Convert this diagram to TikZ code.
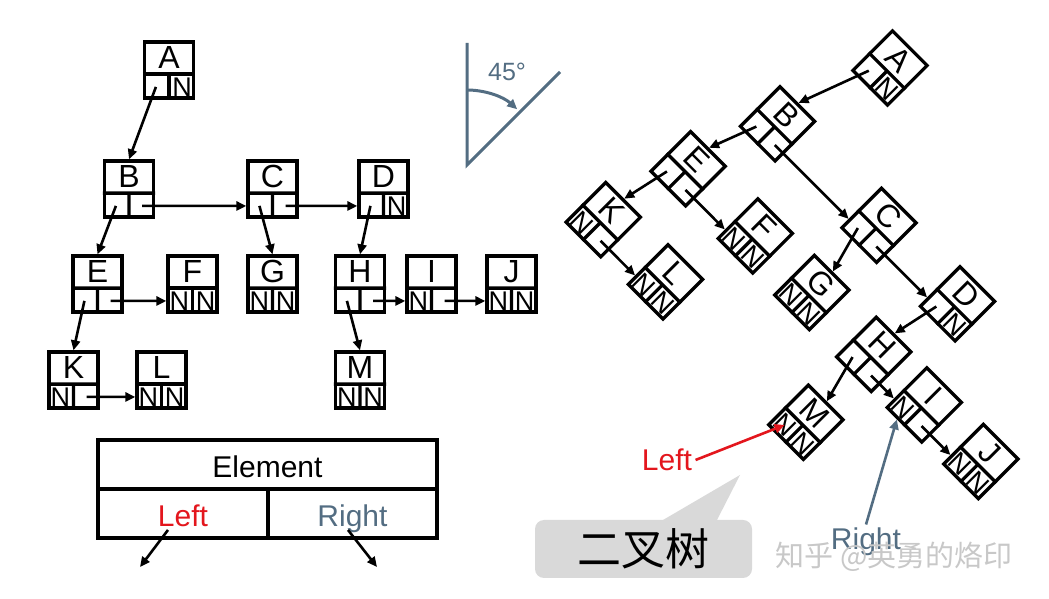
\documentclass[tikz,border=0pt]{standalone}
\usepackage{fontspec}
\setmainfont{Liberation Sans}
\newfontfamily\cjkfont{Noto Sans CJK SC}
\usepackage{tikz}
\usetikzlibrary{
  arrows.meta,
  calc
}
\definecolor{LinkRed}{HTML}{E3161D}
\definecolor{RightSlate}{HTML}{536D82}
\definecolor{BubbleGray}{HTML}{D9D9D9}
\definecolor{MarkGray}{HTML}{C8C8C8}

\tikzset{
  elembox/.style={draw,line width=3.3pt,minimum width=49pt,minimum height=56pt,inner sep=0pt},
  boxline/.style={line width=3.3pt},
  boxlabel/.style={inner sep=0pt,font=\fontsize{32}{32}\selectfont},
  nullcell/.style={inner sep=0pt,font=\fontsize{27}{27}\selectfont},
  link/.style={line width=2.6pt,-{Triangle[length=10pt,width=9pt]}},
  legendpart/.style={draw,line width=3.3pt,outer sep=0pt,minimum height=49pt,
                     text height=27pt,text depth=0pt,font=\fontsize{30}{30}\selectfont},
  anglemark/.style={RightSlate,line width=3pt}
}

% one list node: name, position, letter, left cell, right cell
\newcommand\listnode[5]{%
  \node[elembox] (#1) at (#2) {};
  \coordinate (#1-l) at ($(#1.north west)!0.57!(#1.south west)$);
  \coordinate (#1-r) at ($(#1.north east)!0.57!(#1.south east)$);
  \coordinate (#1-m) at ($(#1-l)!0.5!(#1-r)$);
  \draw[boxline] (#1-l) -- (#1-r) (#1-m) -- (#1.south);
  \node[boxlabel] at ($(#1.north)!0.5!(#1-m)$) {#3};
  \node[nullcell] (#1-lc) at ($(#1-l)!0.5!(#1.south)$) {#4};
  \node[nullcell] (#1-rc) at ($(#1-r)!0.5!(#1.south)$) {#5};
  \coordinate (#1-in) at ($(#1.north west)!0.786!(#1.south west)$);
}

% the whole tree, node names start with #1
\newcommand\listtree[1]{%
  \listnode{#1A}{0,0}{A}{}{N}
  \listnode{#1B}{-40,-119}{B}{}{}
  \listnode{#1C}{103.5,-119}{C}{}{}
  \listnode{#1D}{214.5,-119}{D}{}{N}
  \listnode{#1E}{-71.5,-214}{E}{}{}
  \listnode{#1F}{23.5,-214}{F}{N}{N}
  \listnode{#1G}{103.5,-214}{G}{N}{N}
  \listnode{#1H}{191,-214}{H}{}{}
  \listnode{#1I}{262.5,-214}{I}{N}{}
  \listnode{#1J}{342.5,-214}{J}{N}{N}
  \listnode{#1K}{-95.5,-310}{K}{N}{}
  \listnode{#1L}{-7.5,-310}{L}{N}{N}
  \listnode{#1M}{191,-310}{M}{N}{N}
  % left children
  \draw[link] (#1A-lc.center) -- (#1B.north);
  \draw[link] (#1B-lc.center) -- (#1E.north);
  \draw[link] (#1C-lc.center) -- (#1G.north);
  \draw[link] (#1D-lc.center) -- (#1H.north);
  \draw[link] (#1E-lc.center) -- (#1K.north);
  \draw[link] (#1H-lc.center) -- (#1M.north);
  % right siblings
  \draw[link] (#1B-rc.center) -- (#1C-in);
  \draw[link] (#1C-rc.center) -- (#1D-in);
  \draw[link] (#1E-rc.center) -- (#1F-in);
  \draw[link] (#1H-rc.center) -- (#1I-in);
  \draw[link] (#1I-rc.center) -- (#1J-in);
  \draw[link] (#1K-rc.center) -- (#1L-in);
}

\begin{document}
\begin{tikzpicture}[x=1pt,y=1pt]
  \useasboundingbox (0,0) rectangle (1049,599);

  % tree, upright
  \begin{scope}[shift={(169,529)}]
    \listtree{l}
  \end{scope}

  % same tree, turned by 45 degrees
  \begin{scope}[shift={(890,531)},rotate=-45,transform shape]
    \listtree{r}
  \end{scope}

  % legend
  \node[legendpart,minimum width=339pt] (element) at (267.5,134.5) {Element};
  \node[legendpart,minimum width=170pt,anchor=north west,text=LinkRed] (leftpart)
    at (element.south west) {Left};
  \node[legendpart,minimum width=169pt,anchor=north west,text=RightSlate] (rightpart)
    at (leftpart.north east) {Right};
  \coordinate (leftend) at (140,32);
  \coordinate (rightend) at (377,32);
  \draw[link] ($(leftpart.center)+(-15,-16.5)$) -- (leftend);
  \draw[link] ($(rightpart.center)+(-4.5,-16.5)$) -- (rightend);

  % 45 degree mark
  \draw[anglemark] (467,556) -- (467,434) -- (560,527);
  \draw[anglemark,-{Triangle[length=10pt,width=9pt]}]
    (467,509) arc[start angle=90,end angle=48,radius=75];
  \node[text=RightSlate,font=\fontsize{25}{25}\selectfont] (deg) at (507,527) {45°};

  % callout
  \fill[BubbleGray] (663,79) -- (740,124) -- (717,79) -- cycle;
  \node[fill=BubbleGray,rounded corners=9pt,minimum width=217pt,minimum height=58pt,
        font=\cjkfont\fontsize{44}{44}\selectfont] (bubble) at (643.5,50) {二叉树};

  % pointers into the turned tree
  \node[text=LinkRed,font=\fontsize{30}{30}\selectfont] (leftlabel) at (667,139) {Left};
  \draw[link,LinkRed] (leftlabel.east) -- (rM-lc.center);
  \node[text=RightSlate,font=\fontsize{30}{30}\selectfont] (rightlabel) at (866,57) {Right};
  \draw[link,RightSlate] (rightlabel.north) -- ($(rI.south west)!0.65!(rI.south)$);

  \node[text=MarkGray,font=\cjkfont\fontsize{29}{29}\selectfont] (mark) at (894,42) {知乎 @英勇的烙印};
\end{tikzpicture}
\end{document}
